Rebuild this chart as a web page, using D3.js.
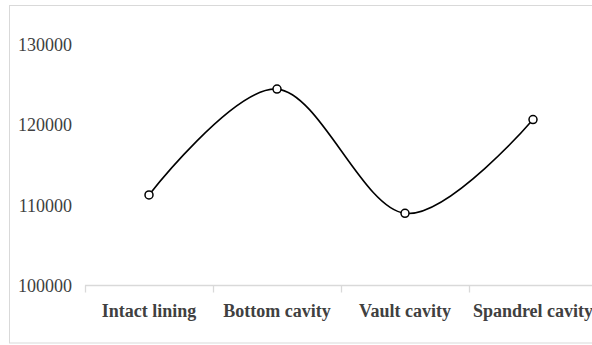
<!DOCTYPE html>
<html>
<head>
<meta charset="utf-8">
<script src="https://cdn.jsdelivr.net/npm/d3@7"></script>
<style>
  html, body { margin: 0; padding: 0; background: #fff; }
  svg { display: block; }
</style>
</head>
<body>
<svg id="chart" width="592" height="345"></svg>
<script>
// Lining condition categories and their measured values
const categories = ["Intact lining", "Bottom cavity", "Vault cavity", "Spandrel cavity"];
const values = [111300, 124500, 109000, 120700];
const yTicks = [100000, 110000, 120000, 130000];

const svg = d3.select("#chart");
const W = 592, H = 345;

// outer chart frame
svg.append("rect")
  .attr("x", 9.5).attr("y", 5.5)
  .attr("width", W).attr("height", 337.5)
  .attr("fill", "#fff")
  .attr("stroke", "#d9d9d9")
  .attr("stroke-width", 1);

const x = d3.scaleBand().domain(categories).range([85, 597]).padding(0);
const y = d3.scaleLinear().domain([100000, 130000]).range([285.5, 45]);

// y axis labels (no axis line)
const yAxis = d3.axisLeft(y).tickValues(yTicks).tickSize(0).tickPadding(13)
  .tickFormat(d3.format("d"));
const gy = svg.append("g").attr("transform", "translate(85,0)").call(yAxis);
gy.select(".domain").remove();
gy.selectAll("text")
  .attr("font-family", "'Liberation Serif', 'Times New Roman', serif")
  .attr("font-size", 18)
  .attr("fill", "#404040");

// x axis with ticks at category boundaries
const gx = svg.append("g").attr("transform", "translate(0,285.5)");
gx.append("line")
  .attr("x1", x.range()[0]).attr("x2", x.range()[1])
  .attr("stroke", "#d9d9d9").attr("stroke-width", 1.3);
const bounds = categories.map(c => x(c)).concat([x.range()[1]]);
gx.selectAll("line.tick").data(bounds).join("line")
  .attr("class", "tick")
  .attr("x1", d => Math.round(d) + 0.5).attr("x2", d => Math.round(d) + 0.5)
  .attr("y1", 0).attr("y2", 7)
  .attr("stroke", "#d9d9d9").attr("stroke-width", 1.3);
gx.selectAll("text").data(categories).join("text")
  .attr("x", d => x(d) + x.bandwidth() / 2)
  .attr("y", 31)
  .attr("text-anchor", "middle")
  .attr("font-family", "'Liberation Serif', 'Times New Roman', serif")
  .attr("font-weight", "bold")
  .attr("font-size", 18)
  .attr("fill", "#404040")
  .text(d => d);

const pts = categories.map((c, i) => [x(c) + x.bandwidth() / 2, y(values[i])]);

// smoothed series line
svg.append("path")
  .attr("d", d3.line().curve(d3.curveCardinal.tension(0))(pts))
  .attr("fill", "none")
  .attr("stroke", "#000")
  .attr("stroke-width", 1.6);

// hollow markers
svg.selectAll("circle.pt").data(pts).join("circle")
  .attr("class", "pt")
  .attr("cx", d => d[0]).attr("cy", d => d[1])
  .attr("r", 4)
  .attr("fill", "#fff")
  .attr("stroke", "#000")
  .attr("stroke-width", 1.5);
</script>
</body>
</html>
